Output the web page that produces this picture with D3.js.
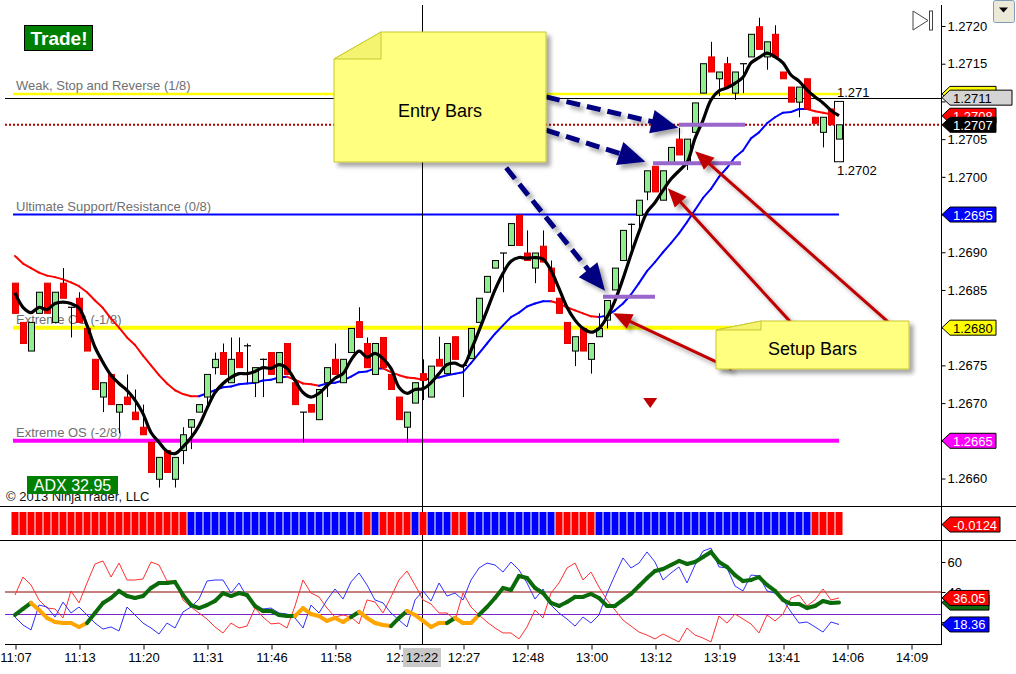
<!DOCTYPE html>
<html>
<head>
<meta charset="utf-8">
<script src="https://cdn.jsdelivr.net/npm/d3@7"></script>
<style>
  body { margin: 0; background: #fff; }
  svg { display: block; }
  text { font-family: "Liberation Sans", Arial, sans-serif; }
</style>
</head>
<body>
<svg id="chart" width="1016" height="674"></svg>
<script>
// ---- price bars ----
const opens = [
  1.26859,1.26807,1.26769,1.26819,1.26859,1.26807,1.26859,1.26827,1.26839,1.26799,
  1.26758,1.26708,1.26738,1.26688,1.26708,1.26688,1.26668,1.26648,1.26599,1.26637,
  1.26599,1.26637,1.26668,1.26688,1.26708,1.26747,1.26767,1.26727,1.26767,1.26776,
  1.26727,1.26758,1.26767,1.26727,1.26779,1.26727,1.26688,1.26698,1.26678,1.26727,
  1.26758,1.26727,1.26767,1.26808,1.26779,1.26738,1.26787,1.26738,1.26708,1.26668,
  1.26700,1.26739,1.26708,1.26758,1.26739,1.26788,1.26750,1.26759,1.26807,1.26847,
  1.26879,1.26899,1.26909,1.26949,1.26899,1.26879,1.26908,1.26879,1.26839,1.26807,
  1.26769,1.26799,1.26758,1.26788,1.26810,1.26850,1.26889,1.26937,1.26949,1.26980,
  1.27014,1.26969,1.27019,1.27050,1.27019,1.27059,1.27111,1.27159,1.27130,1.27150,
  1.27111,1.27150,1.27159,1.27199,1.27159,1.27189,1.27139,1.27119,1.27099,1.27130,
  1.27079,1.27059,1.27090,1.27050];
const highs = [
  1.26859,1.26807,1.26807,1.26847,1.26859,1.26847,1.26879,1.26827,1.26847,1.26799,
  1.26758,1.26727,1.26738,1.26698,1.26738,1.26718,1.26698,1.26648,1.26628,1.26637,
  1.26628,1.26668,1.26678,1.26698,1.26738,1.26767,1.26779,1.26787,1.26787,1.26779,
  1.26747,1.26759,1.26767,1.26767,1.26779,1.26727,1.26688,1.26698,1.26718,1.26747,
  1.26779,1.26758,1.26799,1.26827,1.26787,1.26779,1.26787,1.26738,1.26708,1.26688,
  1.26727,1.26758,1.26749,1.26788,1.26779,1.26788,1.26750,1.26799,1.26839,1.26868,
  1.26889,1.26899,1.26938,1.26949,1.26929,1.26899,1.26929,1.26889,1.26839,1.26807,
  1.26788,1.26799,1.26779,1.26819,1.26836,1.26879,1.26929,1.26938,1.26969,1.27008,
  1.27014,1.27008,1.27039,1.27065,1.27050,1.27098,1.27150,1.27179,1.27139,1.27159,
  1.27139,1.27150,1.27189,1.27211,1.27179,1.27201,1.27139,1.27119,1.27119,1.27130,
  1.27079,1.27079,1.27090,1.27069];
const lows = [
  1.26819,1.26779,1.26769,1.26819,1.26819,1.26807,1.26839,1.26787,1.26807,1.26769,
  1.26718,1.26688,1.26698,1.26660,1.26698,1.26678,1.26658,1.26608,1.26588,1.26608,
  1.26588,1.26619,1.26639,1.26688,1.26698,1.26738,1.26738,1.26727,1.26747,1.26727,
  1.26708,1.26708,1.26738,1.26727,1.26738,1.26698,1.26648,1.26688,1.26678,1.26708,
  1.26738,1.26727,1.26767,1.26787,1.26747,1.26738,1.26747,1.26718,1.26678,1.26648,
  1.26700,1.26704,1.26708,1.26749,1.26739,1.26758,1.26708,1.26759,1.26807,1.26847,
  1.26879,1.26847,1.26909,1.26909,1.26889,1.26859,1.26887,1.26848,1.26819,1.26779,
  1.26749,1.26769,1.26739,1.26788,1.26799,1.26850,1.26889,1.26899,1.26929,1.26969,
  1.26980,1.26969,1.27019,1.27029,1.27009,1.27059,1.27111,1.27139,1.27107,1.27119,
  1.27102,1.27111,1.27159,1.27169,1.27142,1.27159,1.27130,1.27099,1.27079,1.27090,
  1.27071,1.27039,1.27069,1.27050];
const closes = [
  1.26819,1.26779,1.26807,1.26847,1.26819,1.26847,1.26839,1.26827,1.26807,1.26769,
  1.26718,1.26727,1.26698,1.26698,1.26698,1.26678,1.26658,1.26608,1.26628,1.26608,
  1.26628,1.26658,1.26678,1.26698,1.26738,1.26758,1.26738,1.26758,1.26747,1.26776,
  1.26747,1.26758,1.26738,1.26767,1.26738,1.26698,1.26688,1.26688,1.26718,1.26747,
  1.26738,1.26758,1.26799,1.26787,1.26747,1.26779,1.26747,1.26718,1.26678,1.26688,
  1.26727,1.26730,1.26749,1.26749,1.26779,1.26758,1.26750,1.26799,1.26839,1.26868,
  1.26889,1.26899,1.26938,1.26909,1.26889,1.26899,1.26887,1.26848,1.26819,1.26779,
  1.26788,1.26769,1.26779,1.26799,1.26836,1.26879,1.26929,1.26937,1.26969,1.27008,
  1.26980,1.27008,1.27039,1.27029,1.27050,1.27098,1.27150,1.27139,1.27139,1.27119,
  1.27139,1.27150,1.27189,1.27169,1.27179,1.27159,1.27130,1.27099,1.27119,1.27090,
  1.27071,1.27079,1.27069,1.27069];

// fast (black) and slow (red/blue) moving averages
const fastMA = [
  1.26846,1.26827,1.26820,1.26827,1.26824,1.26832,1.26834,1.26832,1.26826,1.26803,
  1.26774,1.26754,1.26737,1.26726,1.26717,1.26704,1.26686,1.26661,1.26648,1.26636,
  1.26633,1.26642,1.26654,1.26670,1.26693,1.26714,1.26726,1.26734,1.26739,1.26739,
  1.26742,1.26747,1.26746,1.26751,1.26746,1.26730,1.26714,1.26708,1.26713,1.26723,
  1.26733,1.26739,1.26757,1.26769,1.26761,1.26766,1.26759,1.26746,1.26721,1.26713,
  1.26718,1.26719,1.26727,1.26739,1.26751,1.26753,1.26749,1.26770,1.26796,1.26823,
  1.26850,1.26872,1.26888,1.26893,1.26892,1.26893,1.26891,1.26876,1.26852,1.26827,
  1.26810,1.26799,1.26794,1.26799,1.26814,1.26836,1.26865,1.26897,1.26927,1.26953,
  1.26966,1.26982,1.26997,1.27008,1.27019,1.27051,1.27075,1.27102,1.27114,1.27118,
  1.27124,1.27132,1.27151,1.27158,1.27164,1.27159,1.27151,1.27135,1.27127,1.27115,
  1.27106,1.27098,1.27088,1.27081];
const slowMA = [
  1.26895,1.26885,1.26879,1.26873,1.26869,1.26867,1.26864,1.26860,1.26855,1.26847,
  1.26836,1.26826,1.26812,1.26800,1.26787,1.26777,1.26763,1.26750,1.26737,1.26726,
  1.26717,1.26712,1.26709,1.26709,1.26713,1.26717,1.26721,1.26722,1.26725,1.26726,
  1.26727,1.26730,1.26731,1.26734,1.26735,1.26731,1.26726,1.26725,1.26723,1.26726,
  1.26727,1.26730,1.26735,1.26741,1.26742,1.26746,1.26746,1.26741,1.26737,1.26734,
  1.26733,1.26731,1.26733,1.26734,1.26737,1.26739,1.26741,1.26753,1.26766,1.26779,
  1.26792,1.26803,1.26814,1.26820,1.26828,1.26832,1.26835,1.26835,1.26832,1.26827,
  1.26823,1.26819,1.26815,1.26814,1.26816,1.26823,1.26832,1.26844,1.26859,1.26875,
  1.26887,1.26900,1.26912,1.26925,1.26940,1.26956,1.26972,1.26984,1.27000,1.27012,
  1.27026,1.27035,1.27051,1.27059,1.27071,1.27079,1.27085,1.27086,1.27090,1.27090,
  1.27087,1.27085,1.27083,1.27081];

// sign of the histogram strip (-1 red, 1 blue)
const stripSign = [
  -1,-1,-1,-1,-1,-1,-1,-1,-1,-1,-1,-1,-1,-1,-1,-1,-1,-1,-1,-1,-1,-1,
  1,1,1,1,1,1,1,1,1,1,1,1,1,1,1,1,1,1,1,1,1,1,
  -1,1,-1,-1,-1,-1,1,-1,1,1,1,-1,-1,
  1,1,1,1,1,1,1,1,1,1,1,
  -1,-1,-1,-1,-1,
  1,1,1,1,1,1,1,1,1,1,1,1,1,1,1,1,1,1,1,1,1,1,1,1,1,1,1,
  -1,-1,-1,-1];
const stripLast = -0.0124;

// DMI / ADX panel
const diMinus = [
  38.0,50.0,44.7,34.7,29.3,28.7,22.7,40.7,32.7,46.0,
  58.7,60.7,50.0,59.3,48.0,48.0,48.7,60.0,58.0,47.3,
  47.3,34.7,30.0,26.0,22.0,16.7,12.7,19.3,16.0,17.3,
  29.3,23.3,18.7,19.3,16.0,30.7,48.0,39.3,36.7,29.3,
  23.3,24.7,23.3,18.7,34.7,33.3,26.0,36.7,48.0,54.0,
  44.7,34.7,32.0,26.0,26.0,21.3,39.3,30.0,24.7,20.0,
  16.0,12.7,12.7,8.7,16.7,28.0,22.7,39.3,46.0,56.0,
  59.3,48.0,53.3,43.3,34.7,28.0,21.3,17.3,13.3,11.3,
  8.7,12.0,9.3,6.7,16.0,11.3,9.3,6.7,24.0,19.3,
  25.3,22.0,18.7,12.7,24.7,20.7,25.3,36.0,38.0,30.7,
  34.7,42.0,34.7,36.05];
const diPlus = [
  23.3,18.0,14.7,31.3,30.0,23.3,33.3,26.0,30.0,24.7,
  19.3,15.3,16.7,14.0,30.0,24.7,19.3,16.0,12.0,19.3,
  16.0,26.7,30.0,35.3,47.3,48.0,48.0,39.3,46.0,36.7,
  29.3,28.7,29.3,26.0,25.3,22.7,16.0,31.3,26.0,34.7,
  42.0,35.3,46.7,52.7,44.7,34.7,32.7,26.0,21.3,16.7,
  34.7,40.7,34.0,46.0,37.3,39.3,34.7,48.0,56.0,59.3,
  58.0,53.3,60.0,54.7,46.0,35.3,42.0,31.3,26.0,22.0,
  17.3,23.3,19.3,24.7,39.3,51.3,62.7,56.0,59.3,66.7,
  60.0,48.0,52.7,56.7,46.0,58.0,67.3,69.3,56.7,56.0,
  44.0,40.7,51.3,50.7,40.7,39.3,34.7,26.7,19.3,20.0,
  16.7,13.3,20.0,18.36];
const adx = [
  24.7,28.7,32.7,28.0,22.7,20.0,19.3,19.3,16.7,19.3,
  26.0,32.7,36.0,40.7,37.3,36.0,37.3,42.7,46.0,46.0,
  46.7,38.0,31.3,29.3,31.3,34.0,39.3,37.3,39.3,38.0,
  30.7,27.3,27.3,24.7,24.0,24.0,29.3,25.3,24.0,20.7,
  22.7,20.0,23.3,26.7,22.7,19.3,18.0,17.3,22.7,27.3,
  24.7,20.7,16.7,19.3,19.3,22.7,19.3,19.3,24.7,30.0,
  36.0,42.7,41.3,50.7,49.3,42.7,39.3,32.7,30.7,33.3,
  36.7,36.7,38.7,36.0,30.7,30.7,34.7,38.7,44.0,49.3,
  54.0,55.3,58.0,60.7,58.7,60.0,63.3,66.7,60.0,56.7,
  51.3,47.3,48.0,50.0,44.7,40.7,34.7,32.0,32.0,29.3,
  30.7,34.0,32.7,32.95];
// 1 = ADX segment ending at this bar is drawn as weak (orange)
const adxWeak = [
  0,0,0,1,1,1,1,1,1,1, 0,0,0,0,0,0,0,0,0,0,
  0,0,0,0,0,0,0,0,0,0, 0,0,0,0,0,0,1,1,1,1,
  1,1,1,0,1,1,1,1,0,0, 1,1,1,1,1,0,1,1,1,0,
  0,0,0,0,0,0,0,0,0,0, 0,0,0,0,0,0,0,0,0,0,
  0,0,0,0,0,0,0,0,0,0, 0,0,0,0,0,0,0,0,0,0,
  0,0,0,0];
const adxLevels = [40, 25];

// Murrey-style levels
const levelNames = ["Weak, Stop and Reverse (1/8)", "Ultimate Support/Resistance (0/8)",
                    "Extreme OS (-1/8)", "Extreme OS (-2/8)"];
const levelPrices = [1.27110, 1.26950, 1.26800, 1.26650];

// axis ticks
const priceTicks = d3.range(0, 13).map(k => +(1.2660 + k * 0.0005).toFixed(4));
const oscTicks = [20, 40, 60];
const timeTicks = d3.range(0, 113, 8);
const timeLabels = ["11:07","11:13","11:20","11:31","11:46","11:58","12:","12:27",
                    "12:48","13:00","13:12","13:19","13:41","14:06","14:09"];

// markers / annotations in data units (bar index, price)
const cursorBar = 50.875, cursorLabel = "12:22";
const lastHigh = 1.27105, rangeHigh = 1.2710, rangeLow = 1.2702;
const entryLines = [[73.5, 80, 1.26841], [79.75, 90.75, 1.27018], [83, 91.25, 1.27069]];
const entryArrows = [[66.375, 1.27106, 82.9, 1.27065], [66.375, 1.27062, 78.8, 1.27020], [61.4, 1.27012, 73.75, 1.26849]];
const setupArrows = [[89.6, 1.26745, 74.75, 1.26819], [96.9, 1.26808, 81.6, 1.26985], [109.1, 1.26808, 85, 1.27034]];
const signalBar = 79.4, signalPrice = 1.26700;

// ---- scales ----
const svg = d3.select("#chart");
const x = d3.scaleLinear().domain([0, 112]).range([15, 911]);
const y = d3.scaleLinear().domain([1.2660, 1.2720]).range([478.5, 26]);
const yOsc = d3.scaleLinear().domain([20, 60]).range([622, 562]);
const axisX = 941, lastX = x(opens.length - 1);
const bars = d3.range(opens.length);
const last = a => a[a.length - 1];
// plain hyphen for negatives, like the platform prints them
const fmt = d3.formatLocale({ decimal: ".", thousands: ",", grouping: [3], currency: ["", ""], minus: "-" });
const f4 = fmt.format(".4f"), f2 = fmt.format(".2f");

const defs = svg.append("defs");
defs.append("filter").attr("id", "shadow").attr("x", "-20%").attr("y", "-20%").attr("width", "150%").attr("height", "150%")
  .append("feDropShadow").attr("dx", 4).attr("dy", 4).attr("stdDeviation", 2)
  .attr("flood-color", "#000").attr("flood-opacity", 0.35);

// ---- level lines ----
const levelColor = ["#ffff00", "#0000ff", "#ffff00", "#ff00ff"];
const levelWidth = [2.5, 2, 4, 4];
levelPrices.forEach((p, k) => {
  svg.append("line").attr("x1", 13).attr("x2", lastX)
    .attr("y1", y(p)).attr("y2", y(p))
    .attr("stroke", levelColor[k]).attr("stroke-width", levelWidth[k]);
  svg.append("text").attr("x", 16).attr("y", y(p) - 4)
    .attr("font-size", 13).attr("fill", "#707070").text(levelNames[k]);
});

// current high line and last price dotted line
svg.append("line").attr("x1", 5).attr("x2", axisX).attr("y1", Math.round(y(lastHigh)) + 0.5).attr("y2", Math.round(y(lastHigh)) + 0.5)
  .attr("stroke", "#000").attr("stroke-width", 1);
svg.append("line").attr("x1", 5).attr("x2", axisX).attr("y1", y(last(closes))).attr("y2", y(last(closes)))
  .attr("stroke", "#b00000").attr("stroke-width", 2).attr("stroke-dasharray", "2,2");

// cursor line
svg.append("line").attr("x1", Math.round(x(cursorBar)) + 0.5).attr("x2", Math.round(x(cursorBar)) + 0.5)
  .attr("y1", 5).attr("y2", 645).attr("stroke", "#000");

// ---- slow MA coloured by slope ----
let slowCol = "#ff0000";
for (let i = 1; i < slowMA.length; i++) {
  const d = slowMA[i] - slowMA[i - 1];
  if (d > 0) slowCol = "#0000ff"; else if (d < 0) slowCol = "#ff0000";
  svg.append("line").attr("x1", x(i - 1)).attr("y1", y(slowMA[i - 1]))
    .attr("x2", x(i)).attr("y2", y(slowMA[i]))
    .attr("stroke", slowCol).attr("stroke-width", 2).attr("stroke-linecap", "round");
}

// range box of the forming bar
svg.append("rect").attr("x", lastX - 4.5).attr("y", y(rangeHigh)).attr("width", 9)
  .attr("height", y(rangeLow) - y(rangeHigh)).attr("fill", "#fff").attr("stroke", "#000");
svg.append("text").attr("x", lastX - 2).attr("y", y(rangeHigh) - 4).attr("font-size", 13).text(String(rangeHigh));
svg.append("text").attr("x", lastX - 2).attr("y", y(rangeLow) + 13).attr("font-size", 13).text(String(rangeLow));

// ---- candles ----
const cg = svg.append("g");
cg.selectAll("line.wick").data(bars).join("line").attr("class", "wick")
  .attr("x1", i => x(i) + 0.5).attr("x2", i => x(i) + 0.5)
  .attr("y1", i => y(highs[i])).attr("y2", i => y(lows[i]))
  .attr("stroke", "#000").attr("stroke-width", 1);
cg.selectAll("rect.body").data(bars.filter(i => opens[i] !== closes[i])).join("rect").attr("class", "body")
  .attr("x", i => x(i) - 2.5).attr("width", 6)
  .attr("y", i => y(Math.max(opens[i], closes[i])))
  .attr("height", i => Math.max(1, Math.abs(y(opens[i]) - y(closes[i]))))
  .attr("fill", i => closes[i] > opens[i] ? "#90ee90" : "#ff0000")
  .attr("stroke", i => closes[i] > opens[i] ? "#000" : "#e00000").attr("stroke-width", 1);
cg.selectAll("line.doji").data(bars.filter(i => opens[i] === closes[i])).join("line").attr("class", "doji")
  .attr("x1", i => x(i) - 3).attr("x2", i => x(i) + 4)
  .attr("y1", i => y(opens[i])).attr("y2", i => y(opens[i]))
  .attr("stroke", "#000").attr("stroke-width", 1.2);

// fast MA
svg.append("path").datum(fastMA)
  .attr("d", d3.line().x((d, i) => x(i)).y(d => y(d)).curve(d3.curveCatmullRom))
  .attr("fill", "none").attr("stroke", "#000").attr("stroke-width", 3.2).attr("stroke-linejoin", "round");

// entry lines
entryLines.forEach(([a, b, p]) => {
  svg.append("line").attr("x1", x(a)).attr("x2", x(b)).attr("y1", y(p)).attr("y2", y(p))
    .attr("stroke", "#9966cc").attr("stroke-width", 4);
});

// signal triangle
svg.append("path")
  .attr("d", `M${x(signalBar) - 7},${y(signalPrice) - 5}L${x(signalBar) + 7},${y(signalPrice) - 5}L${x(signalBar)},${y(signalPrice) + 5}Z`)
  .attr("fill", "#c00000");

// ---- arrows ----
function arrow(g, x0, y0, x1, y1, o) {
  const len = Math.hypot(x1 - x0, y1 - y0), ux = (x1 - x0) / len, uy = (y1 - y0) / len;
  const bx = x1 - ux * o.head, by = y1 - uy * o.head;
  g.append("line").attr("x1", x0).attr("y1", y0).attr("x2", bx + ux * 2).attr("y2", by + uy * 2)
    .attr("stroke", o.color).attr("stroke-width", o.width).attr("stroke-dasharray", o.dash || null);
  g.append("path")
    .attr("d", `M${x1},${y1}L${bx - uy * o.half},${by + ux * o.half}L${bx + uy * o.half},${by - ux * o.half}Z`)
    .attr("fill", o.color);
}
const ag = svg.append("g").attr("filter", "url(#shadow)");
entryArrows.forEach(a => arrow(ag, x(a[0]), y(a[1]), x(a[2]), y(a[3]),
  { color: "#000080", width: 5, head: 27, half: 12, dash: "14,7" }));
setupArrows.forEach(a => arrow(ag, x(a[0]), y(a[1]), x(a[2]), y(a[3]),
  { color: "#c00000", width: 3, head: 19, half: 8 }));

// ---- sticky notes ----
function note(x0, y0, x1, y1, fx, fy, label, ty) {
  const g = svg.append("g");
  g.append("path").attr("d", `M${x0 + fx},${y0}H${x1}V${y1}H${x0}V${y0 + fy}Z`)
    .attr("fill", "#ffff80").attr("stroke", "#c8c830").attr("filter", "url(#shadow)");
  g.append("path").attr("d", `M${x0},${y0 + fy}L${x0 + fx},${y0}V${y0 + fy}Z`)
    .attr("fill", "#f4f470").attr("stroke", "#c8c830");
  g.append("text").attr("x", (x0 + x1) / 2).attr("y", ty + 6.5)
    .attr("text-anchor", "middle").attr("font-size", 18).attr("fill", "#000").text(label);
}
note(334, 32, 546, 162, 47, 27, "Entry Bars", 110);
note(716, 321, 909, 369, 45, 9, "Setup Bars", 348);

// ---- badges and credits ----
svg.append("rect").attr("x", 24.5).attr("y", 25.5).attr("width", 68).attr("height", 25)
  .attr("fill", "#008000").attr("stroke", "#000");
svg.append("text").attr("x", 59).attr("y", 45).attr("text-anchor", "middle")
  .attr("font-size", 19).attr("font-weight", "bold").attr("fill", "#fff").text("Trade!");
svg.append("text").attr("x", 6).attr("y", 501).attr("font-size", 13).attr("fill", "#111")
  .text("\u00a9 2013 NinjaTrader, LLC");
svg.append("rect").attr("x", 27).attr("y", 476).attr("width", 91).attr("height", 18).attr("fill", "#008000");
svg.append("text").attr("x", 72.5).attr("y", 491).attr("text-anchor", "middle")
  .attr("font-size", 16).attr("fill", "#fff").text("ADX " + f2(last(adx)));

// chart controls
svg.append("path").attr("d", "M913,11L928,20.5L913,30Z").attr("fill", "#fff").attr("stroke", "#444");
svg.append("rect").attr("x", 929.5).attr("y", 11).attr("width", 3).attr("height", 19).attr("fill", "#fff").attr("stroke", "#444");
svg.append("rect").attr("x", 993.5).attr("y", 0.5).attr("width", 21).attr("height", 22).attr("rx", 2)
  .attr("fill", "#ece9d8").attr("stroke", "#7f9db9");
svg.append("path").attr("d", "M999,7.5H1008L1003.5,12.5Z").attr("fill", "#000");

// ---- panel frame ----
svg.append("line").attr("x1", axisX + 0.5).attr("x2", axisX + 0.5).attr("y1", 5).attr("y2", 645).attr("stroke", "#000");
[506.5, 540.5].forEach(v => svg.append("line").attr("x1", 0).attr("x2", 1016).attr("y1", v).attr("y2", v).attr("stroke", "#000"));
svg.append("line").attr("x1", 5).attr("x2", axisX).attr("y1", 644.5).attr("y2", 644.5).attr("stroke", "#000");

// value tags sit on the axis; tick labels they fully cover are left out
const priceTagYs = [y(levelPrices[0]), y(lastHigh), y(last(slowMA)), y(last(closes)),
                    y(levelPrices[1]), y(levelPrices[2]), y(levelPrices[3])];
const oscTagYs = [yOsc(last(diPlus))];
const free = ys => v => ys.every(t => Math.abs(t - v) > 8);

// price axis
const pa = svg.append("g").attr("transform", `translate(${axisX + 0.5},0)`)
  .call(d3.axisRight(y).tickValues(priceTicks).tickFormat(f4).tickSize(4).tickPadding(2));
pa.select(".domain").remove();
pa.selectAll(".tick text").filter(d => !free(priceTagYs)(y(d))).remove();
pa.selectAll("text").attr("font-size", 13).attr("font-family", "Liberation Sans, Arial, sans-serif").attr("fill", "#000");

// osc axis
const oa = svg.append("g").attr("transform", `translate(${axisX + 0.5},0)`)
  .call(d3.axisRight(yOsc).tickValues(oscTicks).tickSize(4).tickPadding(2));
oa.select(".domain").remove();
oa.selectAll(".tick text").filter(d => !free(oscTagYs)(yOsc(d))).remove();
oa.selectAll("text").attr("font-size", 13).attr("font-family", "Liberation Sans, Arial, sans-serif").attr("fill", "#000");

// time axis
const ta = svg.append("g").attr("transform", "translate(0.5,644.5)")
  .call(d3.axisBottom(x).tickValues(timeTicks).tickFormat((d, i) => timeLabels[i]).tickSize(5).tickPadding(3));
ta.select(".domain").remove();
ta.selectAll("text").attr("font-size", 13).attr("font-family", "Liberation Sans, Arial, sans-serif").attr("fill", "#000")
  .filter(d => timeLabels[timeTicks.indexOf(d)] === "12:").attr("text-anchor", "end").attr("x", 4);
svg.append("rect").attr("x", x(cursorBar) - 19).attr("y", 648).attr("width", 38).attr("height", 19).attr("fill", "#c8c8c8");
svg.append("text").attr("x", x(cursorBar)).attr("y", 662).attr("text-anchor", "middle").attr("font-size", 13).text(cursorLabel);

// ---- histogram strip ----
svg.append("g").selectAll("rect").data(bars).join("rect")
  .attr("x", i => x(i) - 3.5).attr("width", 7).attr("y", 512).attr("height", 23)
  .attr("fill", i => stripSign[i] < 0 ? "#ff0000" : "#0000ff");

// ---- DMI panel ----
const og = svg.append("g");
og.append("line").attr("x1", 5).attr("x2", axisX).attr("y1", yOsc(adxLevels[0])).attr("y2", yOsc(adxLevels[0])).attr("stroke", "#8b0000");
og.append("line").attr("x1", 5).attr("x2", axisX).attr("y1", yOsc(adxLevels[1])).attr("y2", yOsc(adxLevels[1])).attr("stroke", "#7a22cc");
const oLine = d3.line().x((d, i) => x(i)).y(d => yOsc(d));
og.append("path").datum(diMinus).attr("d", oLine).attr("fill", "none").attr("stroke", "#ff3030").attr("stroke-width", 1);
og.append("path").datum(diPlus).attr("d", oLine).attr("fill", "none").attr("stroke", "#3030ff").attr("stroke-width", 1);
for (let i = 1; i < adx.length; i++) {
  og.append("line").attr("x1", x(i - 1)).attr("y1", yOsc(adx[i - 1])).attr("x2", x(i)).attr("y2", yOsc(adx[i]))
    .attr("stroke", adxWeak[i] ? "#ffa500" : "#0b6b0b").attr("stroke-width", 4).attr("stroke-linecap", "round");
}

// ---- value tags on the axis ----
function tag(yy, label, fill, color, w) {
  const g = svg.append("g");
  g.append("path").attr("d", `M${axisX + 1},${yy}L${axisX + 9},${yy - 7.5}H${axisX + w}V${yy + 7.5}H${axisX + 9}Z`)
    .attr("fill", fill).attr("stroke", "#000");
  if (label) g.append("text").attr("x", axisX + 12).attr("y", yy + 5).attr("font-size", 13).attr("fill", color).text(label);
}
tag(y(levelPrices[0]), null, "#ffff00", "#000", 55);            // covered by the last-high tag
tag(y(lastHigh), f4(lastHigh), "#d4d4d4", "#000", 71);
tag(y(last(slowMA)), f4(last(slowMA)), "#ff0000", "#fff", 55);
tag(y(last(closes)), f4(last(closes)), "#000", "#fff", 55);
tag(y(levelPrices[1]), f4(levelPrices[1]), "#0000ff", "#fff", 55);
tag(y(levelPrices[2]), f4(levelPrices[2]), "#ffff00", "#000", 55);
tag(y(levelPrices[3]), f4(levelPrices[3]), "#ff00ff", "#fff", 55);
tag(524.5, f4(stripLast), "#ff0000", "#fff", 59);
tag(yOsc(last(adx)), null, "#0b6b0b", "#fff", 48);                // covered by the DI- tag
tag(yOsc(last(diMinus)), f2(last(diMinus)), "#ff0000", "#fff", 48);
tag(yOsc(last(diPlus)), f2(last(diPlus)), "#0000ff", "#fff", 48);
</script>
</body>
</html>
